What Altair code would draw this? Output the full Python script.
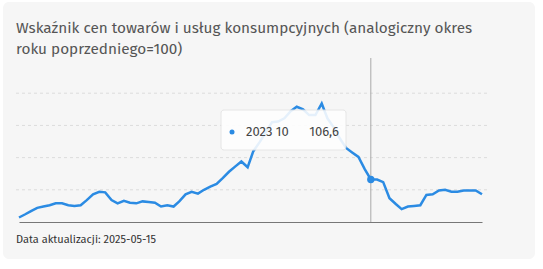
import altair as alt
import pandas as pd

# --- data (GUS, CPI, analogiczny okres roku poprzedniego = 100) ---
v2019 = [100.7, 101.2, 101.7, 102.2, 102.4, 102.6, 102.9, 102.9, 102.6, 102.5, 102.6, 103.4]
v2020 = [104.3, 104.7, 104.6, 103.4, 102.9, 103.3, 103.0, 102.9, 103.2, 103.1, 103.0, 102.4]
v2021 = [102.6, 102.4, 103.2, 104.3, 104.7, 104.4, 105.0, 105.5, 105.9, 106.8, 107.8, 108.6]
v2022 = [109.4, 108.5, 111.0, 112.4, 113.9, 115.5, 115.6, 116.1, 117.2, 117.9, 117.5, 116.6]
v2023 = [116.6, 118.4, 116.1, 114.7, 113.0, 111.5, 110.8, 110.1, 108.2, 106.6, 106.6, 106.2]
v2024 = [103.7, 102.8, 102.0, 102.4, 102.5, 102.6, 104.2, 104.3, 104.9, 105.0, 104.7, 104.7]
v2025 = [104.9, 104.9, 104.9, 104.3]
values = v2019 + v2020 + v2021 + v2022 + v2023 + v2024 + v2025
start_month = "2019-01-01"
highlight_month = "2023-10-01"
grid_values = [105, 110, 115, 120]
title_lines = ["Wskaźnik cen towarów i usług konsumpcyjnych (analogiczny okres",
               "roku poprzedniego=100)"]
footnote = "Data aktualizacji: 2025-05-15"

dates = pd.date_range(start_month, periods=len(values), freq="MS")
df = pd.DataFrame({"data": dates.strftime("%Y/%m/%d"), "wartosc": values})
hl = df[df["data"] == pd.Timestamp(highlight_month).strftime("%Y/%m/%d")].copy()
hl["etykieta"] = pd.Timestamp(highlight_month).strftime("%Y %m")
hl["tekst"] = hl["wartosc"].map(lambda v: f"{v:.1f}".replace(".", ","))
grid_df = pd.DataFrame({"wartosc": grid_values})

W, H = 463, 161
BLUE = "#2b8be3"
FONT = "Fira Sans, Lato, sans-serif"

yscale = alt.Scale(domain=[100, 125], nice=False, zero=False)
xenc = alt.X("data:T", scale=alt.Scale(nice=False),
             axis=alt.Axis(title=None, labels=False, ticks=False, grid=False,
                           domain=True, domainColor="#777777", domainWidth=1, zindex=1))
yenc = alt.Y("wartosc:Q", scale=yscale, axis=None)

one = pd.DataFrame({"a": [0]})
card = alt.Chart(one).mark_rect(fill="#f6f6f6", cornerRadius=6).encode(
    x=alt.value(-16), x2=alt.value(516), y=alt.value(-59), y2=alt.value(198))

grid = alt.Chart(grid_df).mark_rule(color="#dcdcdc", strokeWidth=1, strokeDash=[3, 3]).encode(
    y=alt.Y("wartosc:Q", scale=yscale, axis=None), x=alt.value(-3), x2=alt.value(468))

line = alt.Chart(df).mark_line(color=BLUE, strokeWidth=2.5).encode(x=xenc, y=yenc)

rule = alt.Chart(hl).mark_rule(color="#aaaaaa", strokeWidth=1).encode(
    x="data:T", y=alt.value(-3), y2=alt.value(H))

point = alt.Chart(hl).mark_point(filled=True, size=55, color=BLUE, opacity=1).encode(
    x="data:T", y="wartosc:Q")

tip_box = alt.Chart(hl).mark_rect(fill="white", opacity=0.88, cornerRadius=3,
                                  stroke="#e4e4e4", strokeWidth=1).encode(
    x=alt.value(202), x2=alt.value(327), y=alt.value(49), y2=alt.value(89))
tip_dot = alt.Chart(hl).mark_point(filled=True, size=25, color=BLUE, opacity=1).encode(
    x=alt.value(213), y=alt.value(71))
tip_label = alt.Chart(hl).mark_text(align="left", baseline="middle", fontSize=13,
                                    color="#444444", font=FONT).encode(
    x=alt.value(227), y=alt.value(71), text="etykieta:N")
tip_value = alt.Chart(hl).mark_text(align="right", baseline="middle", fontSize=13,
                                    color="#444444", font=FONT).encode(
    x=alt.value(320), y=alt.value(71), text="tekst:N")

title = alt.Chart(one).mark_text(align="left", baseline="alphabetic", fontSize=15.3,
                                 color="#555555", font=FONT, lineHeight=21,
                                 text=title_lines).encode(
    x=alt.value(-3), y=alt.value(-28))

foot = alt.Chart(one).mark_text(align="left", baseline="alphabetic", fontSize=11,
                                color="#333333", font=FONT, text=footnote).encode(
    x=alt.value(-3), y=alt.value(182))

chart = alt.layer(card, grid, line, rule, point, tip_box, tip_dot, tip_label, tip_value,
                  title, foot).properties(
    width=W, height=H,
    padding={"left": 19, "top": 61, "right": 61, "bottom": 47},
    autosize=alt.AutoSizeParams(type="none"),
    background="white",
).configure_view(stroke=None)

chart.save("out.html", embed_options={"renderer": "svg", "actions": False})
